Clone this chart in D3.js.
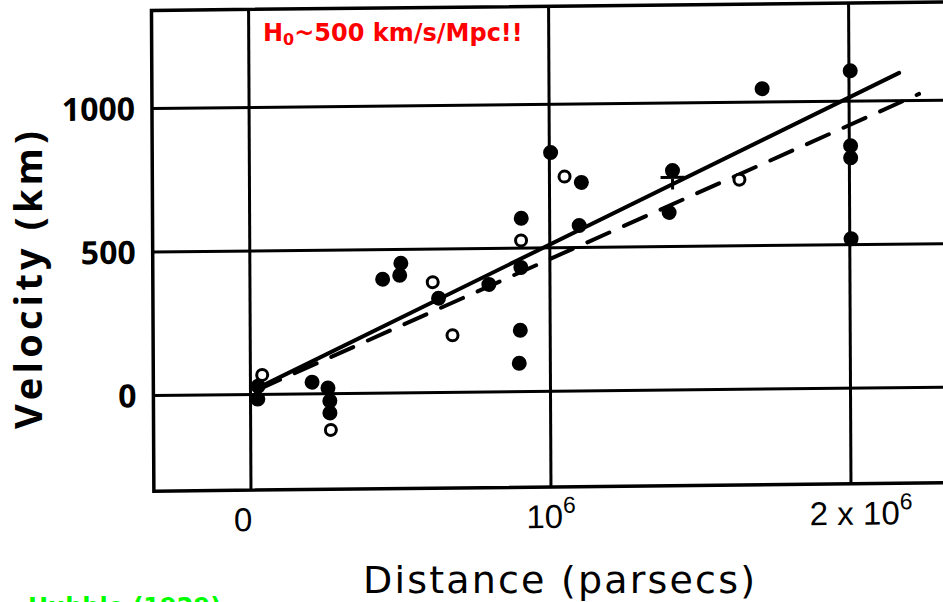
<!DOCTYPE html>
<html>
<head>
<meta charset="utf-8">
<script src="https://cdn.jsdelivr.net/npm/d3@7"></script>
<style>
  body { margin: 0; background: #fff; }
  svg { display: block; }
</style>
</head>
<body>
<div id="chart"></div>
<script>
// Distances in units of 10^6 parsecs, velocities in km/s.
const nebulaDist = [0.027, 0.026, 0.207, 0.260, 0.266, 0.266, 0.444, 0.501, 0.505, 0.630, 0.798,
                    0.898, 0.902, 0.905, 0.907, 1.006, 1.100, 1.108, 1.400, 1.412, 1.712,
                    2.006, 2.006, 2.006, 2.006];
const nebulaVel  = [27, -18, 39, 18, -27, -69, 395, 408, 450, 327, 373,
                    97, 212, 431, 602, 830, 575, 725, 617, 763, 1045,
                    519, 801, 843, 1104];

// groups (open circles)
const groupDist = [0.041, 0.269, 0.611, 0.676, 0.906, 1.052, 1.635];
const groupVel  = [66, -128, 383, 197, 525, 746, 729];

// mean of the remaining nebulae (cross)
const meanDist = [1.412];
const meanVel  = [739];

const solidFit  = [[0.027, 21], [2.169, 1095]];
const dashedFit = [[0.027, 15], [2.235, 1021]];

const xTicks = [0, 1, 2];
const xTickLabels = [['0', ''], ['10', '6'], ['2 x 10', '6']];
const yTicks = [0, 500, 1000];
const xExtent = [-0.322, 2.5];
const yExtent = [-335, 1340];

const width = 943, height = 602;
const tickNudge = [-8, 0, 10];

const x = d3.scaleLinear().domain([0, 2]).range([250, 850]);
const y = d3.scaleLinear().domain([0, 1000]).range([394, 107]);

const svg = d3.select('#chart').append('svg')
  .attr('width', width)
  .attr('height', height);

// the scanned figure sits slightly skewed on the page
const scan = svg.append('g')
  .attr('transform', 'matrix(1,-0.0105,0.005,1,-1.97,2.625)');

// horizontal grid + velocity labels
scan.append('g')
  .attr('transform', `translate(${x(xExtent[0])},0)`)
  .call(d3.axisLeft(y).tickValues(yTicks)
    .tickSize(-(x(xExtent[1]) - x(xExtent[0])))
    .tickPadding(17)
    .tickFormat(d3.format('d')))
  .call(g => g.select('.domain').remove())
  .call(g => g.selectAll('line').attr('stroke', '#000').attr('stroke-width', 3))
  .call(g => g.selectAll('text')
    .attr('font-family', 'Open Sans')
    .attr('font-weight', 'bold')
    .attr('font-size', 32)
    .attr('fill', '#000')
    .attr('dy', '0.36em'));

// vertical grid + distance labels
scan.append('g')
  .attr('transform', `translate(0,${y(yExtent[0])})`)
  .call(d3.axisBottom(x).tickValues(xTicks)
    .tickSize(-(y(yExtent[0]) - y(yExtent[1])))
    .tickFormat(''))
  .call(g => g.select('.domain').remove())
  .call(g => g.selectAll('line').attr('stroke', '#000').attr('stroke-width', 3))
  .call(g => g.selectAll('text').each(function(d, i) {
    const t = d3.select(this)
      .attr('font-family', 'Liberation Sans')
      .attr('font-size', 33)
      .attr('fill', '#000')
      .attr('y', 41)
      .attr('dy', 0)
      .attr('dx', tickNudge[i]);
    t.append('tspan').text(xTickLabels[i][0]);
    if (xTickLabels[i][1]) {
      t.append('tspan').attr('font-size', 23).attr('dy', -15).text(xTickLabels[i][1]);
    }
  }));

// frame
scan.append('rect')
  .attr('x', x(xExtent[0]))
  .attr('y', y(yExtent[1]))
  .attr('width', x(xExtent[1]) - x(xExtent[0]))
  .attr('height', y(yExtent[0]) - y(yExtent[1]))
  .attr('fill', 'none')
  .attr('stroke', '#000')
  .attr('stroke-width', 3.5);

const line = d3.line().x(d => x(d[0])).y(d => y(d[1]));

scan.append('path')
  .attr('d', line(solidFit))
  .attr('fill', 'none')
  .attr('stroke', '#000')
  .attr('stroke-width', 4)
  .attr('stroke-linecap', 'round');

scan.append('path')
  .attr('d', line(dashedFit))
  .attr('fill', 'none')
  .attr('stroke', '#000')
  .attr('stroke-width', 4)
  .attr('stroke-linecap', 'round')
  .attr('stroke-dasharray', '24,16');

scan.append('g').selectAll('circle')
  .data(nebulaDist)
  .join('circle')
  .attr('cx', d => x(d))
  .attr('cy', (d, i) => y(nebulaVel[i]))
  .attr('r', 7.5)
  .attr('fill', '#000');

scan.append('g').selectAll('circle')
  .data(groupDist)
  .join('circle')
  .attr('cx', d => x(d))
  .attr('cy', (d, i) => y(groupVel[i]))
  .attr('r', 5.5)
  .attr('fill', '#fff')
  .attr('stroke', '#000')
  .attr('stroke-width', 3);

scan.append('g').selectAll('path')
  .data(meanDist)
  .join('path')
  .attr('transform', (d, i) => `translate(${x(d)},${y(meanVel[i])})`)
  .attr('d', 'M-12,0H12M0,-12V12')
  .attr('stroke', '#000')
  .attr('stroke-width', 3);

// axis titles
svg.append('text')
  .attr('transform', 'translate(42,280) rotate(-90)')
  .attr('text-anchor', 'middle')
  .attr('font-family', 'Open Sans')
  .attr('font-weight', 'bold')
  .attr('font-size', 38)
  .attr('textLength', 298)
  .attr('lengthAdjust', 'spacing')
  .text('Velocity (km)');

svg.append('text')
  .attr('x', 559)
  .attr('y', 593)
  .attr('text-anchor', 'middle')
  .attr('font-family', 'DejaVu Sans')
  .attr('font-size', 38)
  .attr('textLength', 392)
  .attr('lengthAdjust', 'spacing')
  .text('Distance (parsecs)');

// annotations
const note = svg.append('text')
  .attr('x', 263)
  .attr('y', 41)
  .attr('font-family', 'DejaVu Sans')
  .attr('font-weight', 'bold')
  .attr('font-size', 24)
  .attr('fill', '#ff0000');
note.append('tspan').text('H');
note.append('tspan').attr('font-size', 16).attr('dy', 4).text('0');
note.append('tspan').attr('dy', -4).text('~500 km/s/Mpc!!');

svg.append('text')
  .attr('x', 28)
  .attr('y', 615)
  .attr('font-family', 'DejaVu Sans')
  .attr('font-weight', 'bold')
  .attr('font-size', 24)
  .attr('fill', '#00ff00')
  .text('Hubble (1929)');
</script>
</body>
</html>
